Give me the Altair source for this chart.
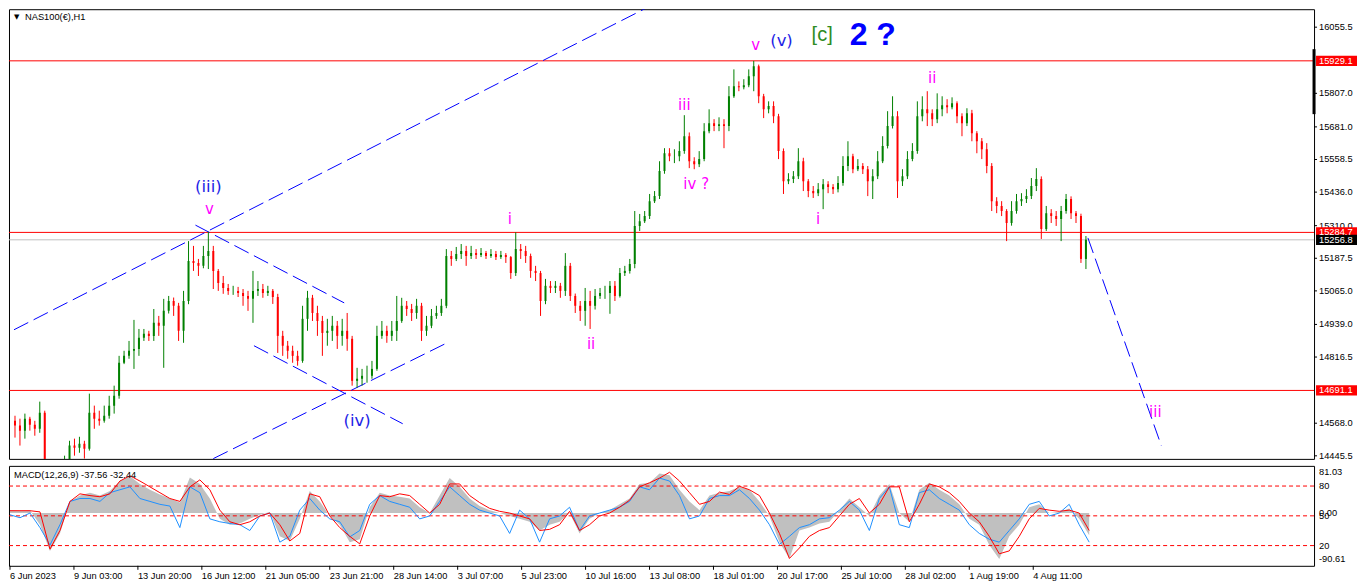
import altair as alt
import pandas as pd

# ---------------- price data (H1 candles, aggregated) ----------------
opens = [14577, 14559, 14540, 14585, 14562, 14547, 14607, 14371, 14352, 14334,
         14360, 14409, 14484, 14476, 14491, 14472, 14607, 14585, 14577, 14596,
         14634, 14671, 14795, 14821, 14840, 14847, 14889, 14904, 14896, 14945,
         14934, 14990, 15027, 15009, 14915, 15027, 15177, 15170, 15159, 15196,
         15215, 15140, 15095, 15076, 15065, 15065, 15057, 15046, 15035, 15065,
         15072, 15057, 15065, 15042, 14896, 14859, 14840, 14821, 14802, 14960,
         15039, 14982, 14952, 14907, 14915, 14934, 14896, 14915, 14885, 14727,
         14735, 14746, 14746, 14772, 14896, 14915, 14896, 14915, 14952, 15009,
         14997, 14982, 15009, 14915, 14934, 14971, 14982, 15009, 15196, 15185,
         15204, 15215, 15196, 15207, 15200, 15207, 15196, 15204, 15192, 15200,
         15192, 15132, 15222, 15215, 15196, 15140, 15132, 15027, 15084, 15076,
         15084, 15065, 15159, 15046, 15009, 14990, 15027, 15009, 15046, 15057,
         15057, 15084, 15046, 15132, 15140, 15166, 15309, 15327, 15346, 15402,
         15421, 15515, 15582, 15571, 15571, 15590, 15646, 15552, 15541, 15560,
         15665, 15695, 15684, 15691, 15684, 15796, 15834, 15830, 15837, 15871,
         15909, 15796, 15747, 15759, 15721, 15590, 15477, 15485, 15496, 15552,
         15477, 15440, 15432, 15447, 15466, 15455, 15447, 15470, 15534, 15571,
         15522, 15534, 15522, 15477, 15496, 15552, 15609, 15684, 15721, 15477,
         15496, 15560, 15590, 15721, 15747, 15732, 15710, 15747, 15762, 15755,
         15770, 15721, 15695, 15732, 15657, 15627, 15597, 15534, 15402, 15384,
         15365, 15320, 15365, 15402, 15410, 15421, 15459, 15485, 15297, 15357,
         15346, 15335, 15365, 15410, 15357, 15346, 15185]

highs = [14596, 14585, 14604, 14592, 14577, 14649, 14615, 14409, 14390, 14409,
         14446, 14502, 14510, 14517, 14502, 14679, 14634, 14615, 14634, 14671,
         14709, 14821, 14840, 14877, 14956, 14922, 14922, 14915, 14997, 14971,
         15035, 15046, 15040, 15020, 15065, 15252, 15234, 15185, 15234, 15287,
         15234, 15147, 15121, 15091, 15084, 15080, 15072, 15065, 15140, 15102,
         15091, 15084, 15072, 15054, 14915, 14877, 14859, 14840, 15009, 15065,
         15050, 15009, 14971, 14960, 14971, 14952, 14960, 14982, 14896, 14776,
         14772, 14784, 14802, 14934, 14952, 14934, 14952, 15046, 15039, 15027,
         15016, 15035, 15020, 14971, 14997, 15009, 15035, 15222, 15215, 15230,
         15241, 15234, 15234, 15222, 15226, 15215, 15222, 15215, 15215, 15207,
         15196, 15285, 15241, 15234, 15205, 15159, 15140, 15110, 15102, 15102,
         15095, 15207, 15170, 15055, 15027, 15076, 15065, 15072, 15076, 15084,
         15102, 15102, 15151, 15159, 15185, 15365, 15354, 15365, 15429, 15440,
         15552, 15601, 15601, 15597, 15627, 15725, 15660, 15567, 15590, 15695,
         15747, 15710, 15717, 15710, 15834, 15897, 15852, 15860, 15897, 15929,
         15915, 15805, 15777, 15777, 15730, 15600, 15507, 15515, 15601, 15565,
         15485, 15459, 15470, 15485, 15477, 15466, 15496, 15571, 15627, 15580,
         15560, 15545, 15534, 15522, 15590, 15646, 15740, 15796, 15740, 15522,
         15590, 15620, 15777, 15796, 15815, 15747, 15807, 15796, 15785, 15792,
         15777, 15732, 15751, 15745, 15665, 15639, 15620, 15545, 15417, 15402,
         15372, 15402, 15429, 15432, 15447, 15489, 15526, 15495, 15384, 15372,
         15365, 15384, 15429, 15420, 15365, 15355, 15271]

lows = [14514, 14484, 14510, 14540, 14521, 14532, 14315, 14315, 14296, 14315,
        14345, 14409, 14446, 14457, 14435, 14465, 14547, 14559, 14570, 14585,
        14604, 14660, 14790, 14810, 14772, 14821, 14877, 14877, 14877, 14896,
        14776, 14980, 14971, 14877, 14870, 15015, 15140, 15121, 15150, 15147,
        15072, 15065, 15054, 15050, 15050, 15042, 15009, 14990, 14945, 15046,
        15039, 15046, 15016, 14832, 14821, 14810, 14795, 14784, 14795, 14915,
        14952, 14896, 14821, 14859, 14877, 14847, 14859, 14840, 14709, 14701,
        14709, 14720, 14735, 14765, 14885, 14870, 14877, 14877, 14945, 14971,
        14952, 14960, 14877, 14896, 14925, 14960, 14971, 15000, 15159, 15177,
        15185, 15159, 15185, 15185, 15192, 15185, 15189, 15181, 15185, 15170,
        15110, 15121, 15185, 15170, 15114, 15102, 14971, 15015, 15057, 15057,
        15039, 15046, 15027, 14982, 14952, 14934, 14922, 14995, 15035, 15035,
        14979, 15027, 15040, 15121, 15130, 15150, 15290, 15320, 15335, 15395,
        15410, 15505, 15552, 15545, 15552, 15580, 15526, 15522, 15530, 15552,
        15657, 15665, 15665, 15601, 15665, 15790, 15815, 15822, 15830, 15815,
        15770, 15714, 15732, 15695, 15560, 15429, 15466, 15470, 15485, 15440,
        15417, 15414, 15421, 15372, 15432, 15429, 15435, 15460, 15515, 15507,
        15515, 15504, 15421, 15410, 15485, 15545, 15600, 15675, 15414, 15459,
        15485, 15552, 15580, 15702, 15684, 15684, 15695, 15721, 15732, 15747,
        15695, 15646, 15684, 15627, 15582, 15560, 15507, 15365, 15357, 15346,
        15252, 15310, 15355, 15384, 15395, 15410, 15440, 15260, 15290, 15320,
        15309, 15252, 15355, 15335, 15320, 15170, 15147]

closes = [14559, 14540, 14585, 14562, 14547, 14607, 14371, 14352, 14334, 14360,
          14409, 14484, 14476, 14491, 14472, 14607, 14585, 14577, 14596, 14634,
          14671, 14795, 14821, 14840, 14847, 14889, 14904, 14896, 14945, 14934,
          14990, 15027, 15009, 14915, 15027, 15177, 15170, 15159, 15196, 15215,
          15140, 15095, 15076, 15065, 15065, 15057, 15046, 15035, 15065, 15072,
          15057, 15065, 15042, 14896, 14859, 14840, 14821, 14802, 14960, 15039,
          14982, 14952, 14907, 14915, 14934, 14896, 14915, 14885, 14727, 14735,
          14746, 14746, 14772, 14896, 14915, 14896, 14915, 14952, 15009, 14997,
          14982, 15009, 14915, 14934, 14971, 14982, 15009, 15196, 15185, 15204,
          15215, 15196, 15207, 15200, 15207, 15196, 15204, 15192, 15200, 15192,
          15132, 15222, 15215, 15196, 15140, 15132, 15027, 15084, 15076, 15084,
          15065, 15159, 15046, 15009, 14990, 15027, 15009, 15046, 15057, 15057,
          15084, 15046, 15132, 15140, 15166, 15309, 15327, 15346, 15402, 15421,
          15515, 15582, 15571, 15571, 15590, 15646, 15552, 15541, 15560, 15665,
          15695, 15684, 15691, 15684, 15796, 15834, 15830, 15837, 15871, 15909,
          15796, 15747, 15759, 15721, 15590, 15477, 15485, 15496, 15552, 15477,
          15440, 15432, 15447, 15466, 15455, 15447, 15470, 15534, 15571, 15522,
          15534, 15522, 15477, 15496, 15552, 15609, 15684, 15721, 15477, 15496,
          15560, 15590, 15721, 15747, 15732, 15710, 15747, 15762, 15755, 15770,
          15721, 15695, 15732, 15657, 15627, 15597, 15534, 15402, 15384, 15365,
          15320, 15365, 15402, 15410, 15421, 15459, 15485, 15297, 15357, 15346,
          15335, 15365, 15410, 15357, 15346, 15185, 15257]

# ---------------- MACD(12,26,9) panel (every 2nd candle) ----------------
macd_main = [5, 4, 5, -20, -65, -35, 20, 30, 35, 30,
             38, 55, 63, 50, 40, 32, 25, 18, 61, 50,
             25, -10, -20, -18, -10, -3, 2, -40, -48, -10,
             38, 20, -5, -20, -50, -45, 10, 35, 30, 28,
             25, 10, 0, 30, 60, 45, 25, 12, 5, 0,
             -5, -10, -15, -30, -20, -15, 0, -35, -10, 0,
             5, 15, 25, 50, 52, 68, 65, 40, 20, 5,
             30, 35, 38, 45, 40, 20, -5, -50, -78, -30,
             -25, -18, -15, 5, 25, 10, -5, 30, 50, 0,
             -15, 40, 52, 40, 30, 15, -10, -20, -55, -79,
             -40, -20, 10, 15, 0, 2, 8, -10, -38]
macd_fast = [-3, -8, 0, -25, -55, -20, 20, 25, 25, 20,
             35, 40, 45, 25, 20, 15, 12, -25, 45, 35,
             -10, -15, -18, -20, -30, -5, 0, -50, -40, 5,
             25, 5, -10, -15, -41, -30, 15, 30, 20, 15,
             10, -10, -5, 20, 45, 30, 15, 5, 0, -5,
             -35, 5, -10, -50, -10, -5, 10, -30, -5, 0,
             5, 10, 20, 45, 40, 60, 55, 30, -10, -5,
             25, 30, 30, 40, 25, 5, -20, -54, -40, -25,
             -20, -10, -8, 5, 20, 5, -30, 25, 45, -20,
             -25, 35, 40, 25, 15, 5, -20, -35, -45, -50,
             -30, -10, 15, 20, -5, 0, 15, -20, -50]
macd_signal = [4, 4, 4, 2, -62, -30, 20, 33, 30, 28,
               33, 55, 64, 55, 45, 35, 25, 20, 45, 57,
               40, 5, -15, -20, -15, -5, 0, -20, -48, -35,
               33, 28, -5, -25, -40, -53, -5, 30, 28, 33,
               30, 15, 0, 15, 50, 50, 30, 18, 8, 3,
               0, -5, -10, -30, -28, -20, 3, -30, -20, -5,
               0, 10, 22, 45, 52, 60, 70, 55, 35, 15,
               20, 36, 32, 46, 40, 30, 0, -35, -78, -60,
               -40, -30, -25, -5, 15, 25, 0, 15, 45, 45,
               -15, 15, 50, 45, 35, 20, 0, -15, -40, -70,
               -65, -40, -10, 8, 5, 3, 5, 0, -30]
macd_levels = [46.4, -4.8, -55.9]
macd_level_text = ["80", "50", "20"]
macd_range = [-90.61, 81.03]

# ---------------- axes, levels and annotations ----------------
time_labels = ["6 Jun 2023", "9 Jun 03:00", "13 Jun 20:00", "16 Jun 12:00",
               "21 Jun 05:00", "23 Jun 21:00", "28 Jun 14:00", "3 Jul 07:00",
               "5 Jul 23:00", "10 Jul 16:00", "13 Jul 08:00", "18 Jul 01:00",
               "20 Jul 17:00", "25 Jul 10:00", "28 Jul 02:00", "1 Aug 19:00",
               "4 Aug 11:00"]
price_ticks = [16055.5, 15807.0, 15681.0, 15558.5, 15436.0, 15310.0, 15187.5,
               15065.0, 14939.0, 14816.5, 14568.0, 14445.5]
level_prices = [15929.1, 15284.7, 14691.1]
bid_price = 15256.8

wave_text = ["(iii)", "v", "(iv)", "i", "ii", "iii", "iv ?", "v", "(v)", "[c]",
             "2 ?", "i", "ii", "iii"]
wave_bar = [39, 39.2, 69, 99.8, 116.2, 135, 137.4, 149.4, 154.6, 162.8, 173,
            162, 185, 230]
wave_price = [15455, 15372, 14577, 15335, 14866, 15762, 15466, 15987, 16002,
              16025, 16025, 15335, 15864, 14611]
wave_degree = ["minor", "minute", "minor", "minute", "minute", "minute", "minute",
               "minute", "minor", "inter", "primary", "minute", "minute", "minute"]

trend_id = ["a", "a", "b", "b", "c", "c", "d", "d", "e", "e"]
trend_bar = [-0.2, 128, 40, 87.6, 36.4, 66.4, 48.2, 78.2, 216.4, 231.2]
trend_price = [14919, 16134, 14435, 14874, 15312, 15020, 14859, 14566, 15264, 14484]

# ---------------- styling ----------------
W, H, MH = 1306, 450, 100
FONT = "Liberation Sans"
WFONT = "DejaVu Sans"
FS = 9.3
UP, DOWN = "#008000", "#ff0000"
STYLE = {
    "minor": ("#1e1ee6", 16.5, WFONT, "normal"),
    "minute": ("#ff00ff", 15, WFONT, "normal"),
    "inter": ("#2e8b22", 20, FONT, "normal"),
    "primary": ("#0000ff", 32, FONT, "bold"),
}

n = len(closes)
candles = pd.DataFrame({"b": list(range(n)), "o": opens, "h": highs,
                        "l": lows, "c": closes})

x_scale = alt.Scale(domain=[-0.2, -0.2 + W / 5], nice=False, zero=False)
y_scale = alt.Scale(domain=[14434, 16123], nice=False, zero=False)


def X(field):
    return alt.X(field, scale=x_scale, axis=None)


def Y(field):
    return alt.Y(field, scale=y_scale, axis=None)


color_cond = alt.condition("datum.c >= datum.o", alt.value(UP), alt.value(DOWN))

wick = alt.Chart(candles).mark_rule(clip=True, strokeWidth=1).encode(
    x=X("b:Q"), y=Y("l:Q"), y2="h:Q", color=color_cond)
body = alt.Chart(candles).mark_bar(clip=True, width=2).encode(
    x=X("b:Q"), y=Y("o:Q"), y2="c:Q", color=color_cond)

hlines = alt.Chart(pd.DataFrame({"p": level_prices})).mark_rule(
    color="#ff0000", strokeWidth=1).encode(y=Y("p:Q"))
bidline = alt.Chart(pd.DataFrame({"p": [bid_price]})).mark_rule(
    color="#c0c0c0", strokeWidth=1).encode(y=Y("p:Q"))

trend = alt.Chart(pd.DataFrame({"id": trend_id, "b": trend_bar, "p": trend_price})).mark_line(
    clip=True, color="#0000ff", strokeWidth=1, strokeDash=[16, 6]).encode(
    x=X("b:Q"), y=Y("p:Q"), detail="id:N")

wdf = pd.DataFrame({"t": wave_text, "b": wave_bar, "p": wave_price, "d": wave_degree})
wave_layers = []
for deg, (col, fs, fnt, fw) in STYLE.items():
    wave_layers.append(
        alt.Chart(wdf).transform_filter(alt.datum.d == deg).mark_text(
            color=col, fontSize=fs, font=fnt, fontWeight=fw,
            align="center", baseline="middle").encode(
            x=X("b:Q"), y=Y("p:Q"), text="t:N"))

# price scale on the right (labels + small ticks)
pt_df = pd.DataFrame({"p": price_ticks})
p_labels = alt.Chart(pt_df).mark_text(
    align="left", baseline="middle", font=FONT, fontSize=FS, color="#000000").encode(
    x=alt.value(W + 5), y=Y("p:Q"), text=alt.Text("p:Q", format=".1f"))
p_ticks = alt.Chart(pt_df).mark_rule(color="#000000", strokeWidth=1).encode(
    x=alt.value(W), x2=alt.value(W + 3), y=Y("p:Q"))

box_df = pd.DataFrame({"p": level_prices + [bid_price],
                       "t": [f"{v:.1f}" for v in level_prices + [bid_price]],
                       "k": ["line"] * len(level_prices) + ["bid"]})
boxes = alt.Chart(box_df).transform_calculate(
    top="datum.p + 19", bot="datum.p - 19").mark_rect().encode(
    x=alt.value(W + 2), x2=alt.value(W + 43),
    y=Y("top:Q"), y2="bot:Q",
    color=alt.condition("datum.k == 'bid'", alt.value("#000000"), alt.value("#ff0000")))
box_text = alt.Chart(box_df).mark_text(
    align="left", baseline="middle", color="white", font=FONT, fontSize=FS).encode(
    x=alt.value(W + 5), y=Y("p:Q"), text="t:N")

one = pd.DataFrame({"t": ["NAS100(€),H1"]})
title = alt.Chart(one).mark_text(align="left", baseline="middle", font=FONT,
                                 fontSize=FS, color="#000000").encode(
    x=alt.value(16), y=alt.value(8), text="t:N")
tri = alt.Chart(pd.DataFrame({"t": ["▼"]})).mark_text(
    align="left", baseline="middle", font=WFONT, fontSize=7, color="#000000").encode(
    x=alt.value(5), y=alt.value(8), text="t:N")
scroll = alt.Chart(one).mark_rule(color="#000000", strokeWidth=3).encode(
    x=alt.value(W), y=alt.value(40), y2=alt.value(105))

main = alt.layer(hlines, bidline, trend, wick, body, *wave_layers, p_ticks,
                 p_labels, boxes, box_text, title, tri, scroll).properties(
    width=W, height=H)

# ---------------- MACD panel ----------------
mdf = pd.DataFrame({"b": list(range(0, 2 * len(macd_main), 2)), "g": macd_main,
                    "f": macd_fast, "s": macd_signal, "z": [0] * len(macd_main)})
m_scale = alt.Scale(domain=macd_range, nice=False, zero=False)


def MY(field):
    return alt.Y(field, scale=m_scale, axis=None)


area = alt.Chart(mdf).mark_area(color="#c0c0c0", clip=True).encode(
    x=X("b:Q"), y=MY("g:Q"), y2="z:Q")
levels = alt.Chart(pd.DataFrame({"v": macd_levels})).mark_rule(
    color="#ff0000", strokeWidth=1, strokeDash=[4, 3]).encode(y=MY("v:Q"))
fast = alt.Chart(mdf).mark_line(color="#1e90ff", strokeWidth=1, clip=True).encode(
    x=X("b:Q"), y=MY("f:Q"))
signal = alt.Chart(mdf).mark_line(color="#ff0000", strokeWidth=1, clip=True).encode(
    x=X("b:Q"), y=MY("s:Q"))
mtitle = alt.Chart(pd.DataFrame({"t": ["MACD(12,26,9) -37.56 -32.44"]})).mark_text(
    align="left", baseline="middle", font=FONT, fontSize=FS, color="#000000").encode(
    x=alt.value(5), y=alt.value(9), text="t:N")

# right-hand MACD scale labels
lvl_df = pd.DataFrame({"v": macd_levels + [0], "t": macd_level_text + ["0.00"]})
m_lvl_labels = alt.Chart(lvl_df).mark_text(
    align="left", baseline="middle", font=FONT, fontSize=FS, color="#000000").encode(
    x=alt.value(W + 5), y=MY("v:Q"), text="t:N")
rng_df = pd.DataFrame({"v": macd_range, "t": [f"{v:.2f}" for v in macd_range]})
m_top = alt.Chart(rng_df).transform_filter("datum.v > 0").mark_text(
    align="left", baseline="top", dy=2, font=FONT, fontSize=FS, color="#000000").encode(
    x=alt.value(W + 5), y=MY("v:Q"), text="t:N")
m_bot = alt.Chart(rng_df).transform_filter("datum.v < 0").mark_text(
    align="left", baseline="bottom", dy=-2, font=FONT, fontSize=FS, color="#000000").encode(
    x=alt.value(W + 5), y=MY("v:Q"), text="t:N")

# time scale under the MACD panel
t_df = pd.DataFrame({"t": time_labels,
                     "tb": [k * 12.8 for k in range(len(time_labels))]})
t_ticks = alt.Chart(t_df).mark_rule(color="#000000", strokeWidth=1).encode(
    x=X("tb:Q"), y=alt.value(MH), y2=alt.value(MH + 4))
t_labels = alt.Chart(t_df).mark_text(
    align="left", baseline="middle", font=FONT, fontSize=FS, color="#000000").encode(
    x=X("tb:Q"), y=alt.value(MH + 10), text="t:N")

macd = alt.layer(area, levels, fast, signal, mtitle, m_lvl_labels, m_top, m_bot,
                 t_ticks, t_labels).properties(width=W, height=MH)

chart = alt.vconcat(main, macd, spacing=3).properties(
    padding={"left": 0, "top": 0, "right": 0, "bottom": 0},
    background="white",
).configure_view(stroke="#000000", strokeWidth=1)

chart.save("out.html", embed_options={"renderer": "svg", "actions": False})
